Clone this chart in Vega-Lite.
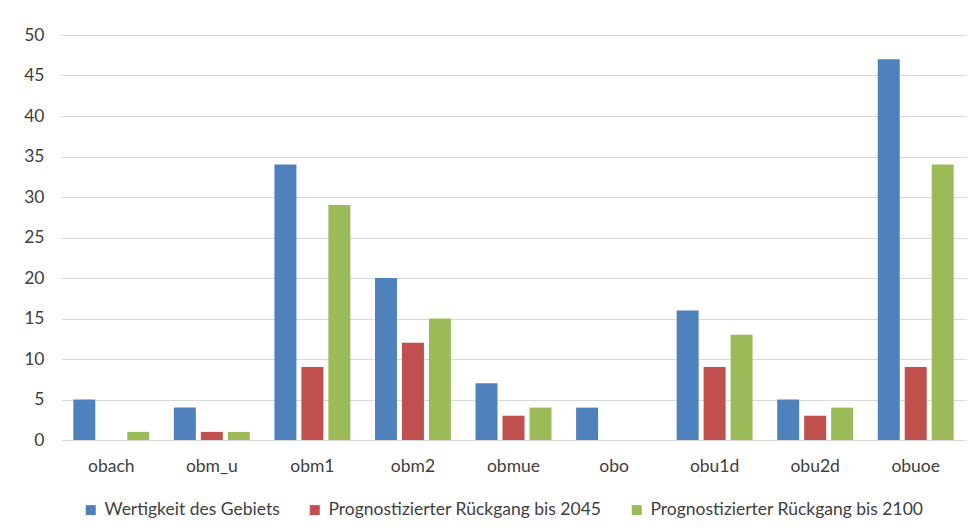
{
  "$schema": "https://vega.github.io/schema/vega-lite/v6.json",
  "width": 905,
  "height": 405,
  "autosize": {"type": "none"},
  "padding": {"left": 61, "top": 35, "right": 12, "bottom": 92},
  "background": "white",
  "config": {
    "view": {"stroke": null},
    "font": "Lato",
    "axis": {"labelColor": "#404040", "labelFont": "Lato", "labelFontSize": 17.5, "title": null},
    "legend": {"labelColor": "#404040", "labelFont": "Lato", "labelFontSize": 17.5}
  },
  "data": {
    "values": [
      {"gebiet": "obach", "reihe": "Wertigkeit des Gebiets", "wert": 5},
      {"gebiet": "obach", "reihe": "Prognostizierter Rückgang bis 2045", "wert": 0},
      {"gebiet": "obach", "reihe": "Prognostizierter Rückgang bis 2100", "wert": 1},
      {"gebiet": "obm_u", "reihe": "Wertigkeit des Gebiets", "wert": 4},
      {"gebiet": "obm_u", "reihe": "Prognostizierter Rückgang bis 2045", "wert": 1},
      {"gebiet": "obm_u", "reihe": "Prognostizierter Rückgang bis 2100", "wert": 1},
      {"gebiet": "obm1", "reihe": "Wertigkeit des Gebiets", "wert": 34},
      {"gebiet": "obm1", "reihe": "Prognostizierter Rückgang bis 2045", "wert": 9},
      {"gebiet": "obm1", "reihe": "Prognostizierter Rückgang bis 2100", "wert": 29},
      {"gebiet": "obm2", "reihe": "Wertigkeit des Gebiets", "wert": 20},
      {"gebiet": "obm2", "reihe": "Prognostizierter Rückgang bis 2045", "wert": 12},
      {"gebiet": "obm2", "reihe": "Prognostizierter Rückgang bis 2100", "wert": 15},
      {"gebiet": "obmue", "reihe": "Wertigkeit des Gebiets", "wert": 7},
      {"gebiet": "obmue", "reihe": "Prognostizierter Rückgang bis 2045", "wert": 3},
      {"gebiet": "obmue", "reihe": "Prognostizierter Rückgang bis 2100", "wert": 4},
      {"gebiet": "obo", "reihe": "Wertigkeit des Gebiets", "wert": 4},
      {"gebiet": "obo", "reihe": "Prognostizierter Rückgang bis 2045", "wert": 0},
      {"gebiet": "obo", "reihe": "Prognostizierter Rückgang bis 2100", "wert": 0},
      {"gebiet": "obu1d", "reihe": "Wertigkeit des Gebiets", "wert": 16},
      {"gebiet": "obu1d", "reihe": "Prognostizierter Rückgang bis 2045", "wert": 9},
      {"gebiet": "obu1d", "reihe": "Prognostizierter Rückgang bis 2100", "wert": 13},
      {"gebiet": "obu2d", "reihe": "Wertigkeit des Gebiets", "wert": 5},
      {"gebiet": "obu2d", "reihe": "Prognostizierter Rückgang bis 2045", "wert": 3},
      {"gebiet": "obu2d", "reihe": "Prognostizierter Rückgang bis 2100", "wert": 4},
      {"gebiet": "obuoe", "reihe": "Wertigkeit des Gebiets", "wert": 47},
      {"gebiet": "obuoe", "reihe": "Prognostizierter Rückgang bis 2045", "wert": 9},
      {"gebiet": "obuoe", "reihe": "Prognostizierter Rückgang bis 2100", "wert": 34}
    ]
  },
  "mark": {"type": "bar"},
  "encoding": {
    "x": {
      "field": "gebiet",
      "type": "nominal",
      "sort": null,
      "scale": {"paddingInner": 0.245, "paddingOuter": 0.1225},
      "axis": {"labelAngle": 0, "ticks": false, "domain": false, "labelPadding": 17}
    },
    "xOffset": {
      "field": "reihe",
      "type": "nominal",
      "sort": ["Wertigkeit des Gebiets", "Prognostizierter Rückgang bis 2045", "Prognostizierter Rückgang bis 2100"],
      "scale": {"paddingInner": 0.185, "paddingOuter": 0}
    },
    "y": {
      "field": "wert",
      "type": "quantitative",
      "scale": {"domain": [0, 50]},
      "axis": {
        "values": [0, 5, 10, 15, 20, 25, 30, 35, 40, 45, 50],
        "ticks": false,
        "domain": false,
        "gridColor": "#D9D9D9",
        "gridWidth": 1,
        "labelPadding": 17
      }
    },
    "color": {
      "field": "reihe",
      "type": "nominal",
      "sort": ["Wertigkeit des Gebiets", "Prognostizierter Rückgang bis 2045", "Prognostizierter Rückgang bis 2100"],
      "scale": {
        "domain": ["Wertigkeit des Gebiets", "Prognostizierter Rückgang bis 2045", "Prognostizierter Rückgang bis 2100"],
        "range": ["#4F81BD", "#C0504D", "#9BBB59"]
      },
      "legend": {
        "title": null,
        "orient": "none",
        "direction": "horizontal",
        "legendX": 21,
        "legendY": 466,
        "symbolType": "square",
        "symbolSize": 100,
        "symbolStrokeWidth": 0,
        "labelOffset": 5,
        "columnPadding": 26,
        "labelLimit": 400
      }
    }
  }
}
